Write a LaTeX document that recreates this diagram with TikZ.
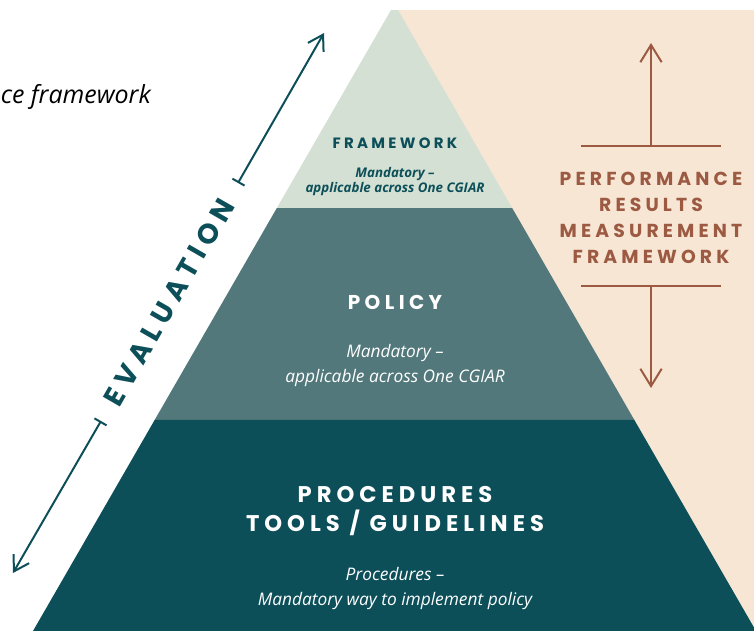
\documentclass[tikz,border=0pt]{standalone}
\usepackage{fontspec}
\setmainfont{Open Sans}
\newfontfamily\capsfont[LetterSpace=22]{Poppins}
\usepackage{tikz}
\usetikzlibrary{calc}
\usetikzlibrary{arrows.meta}
\definecolor{paleGreen}{HTML}{D4E0D3}
\definecolor{policyTeal}{HTML}{52787B}
\definecolor{darkTeal}{HTML}{0C4F59}
\definecolor{peach}{HTML}{F8E6D5}
\definecolor{rust}{HTML}{9C5A43}

\begin{document}
\begin{tikzpicture}[x=0.75pt,y=-0.75pt,
    evalarrow/.style={line width=1.5pt, darkTeal, {Bar[width=10.5pt]}-{Straight Barb[length=11pt,width=13.5pt]}},
    perfarrow/.style={line width=1.5pt, rust, -{Straight Barb[length=13pt,width=16pt]}},
    perfrule/.style={line width=1pt, rust},
    heading/.style={draw=none, font=\capsfont\bfseries#1},
    note/.style={draw=none, align=center, font=\itshape#1}]
        \useasboundingbox (0,0) rectangle (754,631);
        % coordinates
        \coordinate (apex) at (394.5,3.9);
        \coordinate (bl) at (33,631);
        \coordinate (br) at (756,631);
        \coordinate (fl) at ($(apex)!0.3255!(bl)$);
        \coordinate (fr) at ($(apex)!0.3255!(br)$);
        \coordinate (pl) at ($(apex)!0.6635!(bl)$);
        \coordinate (pr) at ($(apex)!0.6635!(br)$);
        
        % background and layers
        \fill[peach] (398,10) rectangle (754,631);
        \fill[paleGreen] (apex) -- (fr) -- (fl) -- cycle;
        \fill[policyTeal] (fl) -- (fr) -- (pr) -- (pl) -- cycle;
        \fill[darkTeal] (pl) -- (pr) -- (br) -- (bl) -- cycle;
        \fill[white] (0,0) rectangle (754,10);
        
        % evaluation arrow
        \coordinate (evalTipUp) at (324,33);
        \coordinate (evalBarUp) at (238,183);
        \coordinate (evalBarDown) at (101,421);
        \coordinate (evalTipDown) at (13,573);
        \draw[evalarrow] (evalBarUp) -- (evalTipUp);
        \draw[evalarrow] (evalBarDown) -- (evalTipDown);
        
        % performance arrow
        \coordinate (perfTipUp) at (651,43);
        \coordinate (perfRuleUp) at (651,146);
        \coordinate (perfRuleDown) at (651,286);
        \coordinate (perfTipDown) at (651,388);
        \draw[perfarrow] (perfRuleUp) -- (perfTipUp);
        \draw[perfarrow] (perfRuleDown) -- (perfTipDown);
        \draw[perfrule] ($(perfRuleUp)+(-70,0)$) -- ($(perfRuleUp)+(70,0)$);
        \draw[perfrule] ($(perfRuleDown)+(-70,0)$) -- ($(perfRuleDown)+(70,0)$);
        
        % Text
        \node[note={\fontsize{18.7}{22}\selectfont}, anchor=east, inner sep=0pt, color=black] (caption) at (151,97) {ce framework};
        
        \node[heading={\fontsize{11.2}{13}\selectfont}, color=darkTeal] (framework) at (395,143) {FRAMEWORK};
        \node[note={\bfseries\fontsize{10}{11.25}\selectfont}, color=darkTeal] (frameworkNote) at (395,181.5) {Mandatory –\\applicable across One CGIAR};
        
        \node[heading={\fontsize{15}{16}\selectfont}, color=white] (policy) at (395,302) {POLICY};
        \node[note={\fontsize{13}{18.75}\selectfont}, color=white] (policyNote) at (395,365.5) {Mandatory –\\applicable across One CGIAR};
        
        \node[heading={\fontsize{17}{21.75}\selectfont}, color=white, align=center] (procedures) at (395,511.5) {PROCEDURES\\TOOLS / GUIDELINES};
        \node[note={\fontsize{13}{18.75}\selectfont}, color=white] (proceduresNote) at (395,588.5) {Procedures –\\Mandatory way to implement policy};
        
        \node[heading={\fontsize{14.1}{19.5}\selectfont}, color=rust, align=center] (prmf) at (651,218) {PERFORMANCE\\RESULTS\\MEASUREMENT\\FRAMEWORK};
        
        \node[heading={\fontsize{21}{24}\selectfont}, color=darkTeal, rotate=60.1] (evaluation) at (169,302) {EVALUATION};
    \end{tikzpicture}
\end{document}
